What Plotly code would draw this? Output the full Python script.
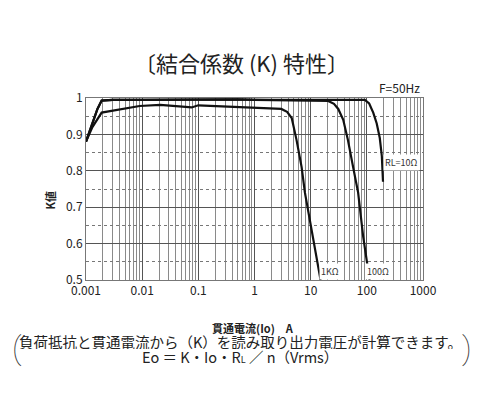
import plotly.graph_objects as go

# 貫通電流 (A) と結合係数 K  -- RL=10Ω
i_10 = [0.001, 0.0013, 0.0016, 0.0019, 0.003, 0.01, 0.05, 0.1, 0.5, 1, 5, 20, 50, 92, 110, 130, 150, 170, 185, 194]
k_10 = [0.88, 0.93, 0.97, 0.993, 0.995, 0.995, 0.996, 0.997, 0.996, 0.995, 0.995, 0.995, 0.996, 0.995, 0.985, 0.96, 0.93, 0.89, 0.84, 0.77]

# RL=100Ω
i_100 = [0.001, 0.0013, 0.0016, 0.0019, 0.003, 0.01, 0.05, 0.1, 0.5, 1, 5, 15, 20.5, 26, 31, 38, 46, 57, 70, 86, 112]
k_100 = [0.88, 0.93, 0.97, 0.993, 0.995, 0.995, 0.996, 0.997, 0.996, 0.995, 0.994, 0.994, 0.992, 0.984, 0.97, 0.94, 0.885, 0.81, 0.74, 0.62, 0.5]

# RL=1KΩ
i_1k = [0.001, 0.0013, 0.0019, 0.005, 0.009, 0.021, 0.041, 0.076, 0.1, 0.3, 1, 2, 3, 3.8, 4.6, 5.6, 6.9, 7.9, 10, 12.5, 15]
k_1k = [0.88, 0.92, 0.96, 0.97, 0.978, 0.981, 0.978, 0.974, 0.98, 0.977, 0.975, 0.973, 0.97, 0.962, 0.945, 0.885, 0.81, 0.74, 0.65, 0.57, 0.5]

x_ticks = [0.001, 0.01, 0.1, 1, 10, 100, 1000]
x_labels = ["0.001", "0.01", "0.1", "1", "10", "100", "1000"]
y_ticks = [0.5, 0.6, 0.7, 0.8, 0.9, 1.0]
y_labels = ["0.5", "0.6", "0.7", "0.8", "0.9", "1"]

minor_x = [m * 10 ** e for e in range(-3, 3) for m in range(2, 10)]

jp = "Noto Sans CJK JP"

fig = go.Figure()
for xs, ys in [(i_10, k_10), (i_100, k_100), (i_1k, k_1k)]:
    fig.add_trace(go.Scatter(x=xs, y=ys, mode="lines",
                             line=dict(color="#111", width=2.2),
                             showlegend=False, hoverinfo="skip"))

fig.update_xaxes(type="log", range=[-3, 3], tickvals=x_ticks, ticktext=x_labels,
                 showgrid=True, gridcolor="#555", gridwidth=1,
                 minor=dict(tickvals=minor_x, showgrid=True, gridcolor="#8a8a8a", gridwidth=1),
                 showline=True, linecolor="#777", mirror=True, ticks="",
                 tickfont=dict(family=jp, size=12, color="#222"), zeroline=False)
fig.update_yaxes(range=[0.5, 1.0], tickvals=y_ticks, ticktext=y_labels,
                 showgrid=True, gridcolor="#555", gridwidth=1,
                 minor=dict(dtick=0.05, showgrid=True, griddash="dot", gridcolor="#777"),
                 showline=True, linecolor="#777", mirror=True, ticks="",
                 tickfont=dict(family=jp, size=12, color="#222"), zeroline=False)

ann = [
    dict(text="〔結合係数 (K) 特性〕", x=0.46, y=1.198, size=22),
    dict(text="F=50Hz", x=0.997, y=1.055, size=12, xanchor="right"),
    dict(text="<b>K値</b>", x=-0.108, y=0.44, size=11, textangle=-90),
    dict(text="<b>貫通電流(Io)</b>　<b>A</b>", x=0.496, y=-0.265, size=11),
    dict(text="負荷抵抗と貫通電流から（K）を読み取り出力電圧が計算できます。", x=0.457, y=-0.337, size=14.5, height=15),
    dict(text="Eo ＝ K・Io・R<span style='font-size:9px'>L</span> ／ n（Vrms）", x=0.457, y=-0.422, size=14.5),
]
for a in ann:
    fig.add_annotation(text=a["text"], x=a["x"], y=a["y"], xref="paper", yref="paper",
                       xanchor=a.get("xanchor", "center"), yanchor="middle",
                       textangle=a.get("textangle", 0), showarrow=False,
                       height=a.get("height"),
                       font=dict(family=jp, size=a["size"], color="#222"))

# 説明文を囲む大きな括弧
for txt, px in [("(", -0.226), (")", 1.15)]:
    fig.add_annotation(text=txt, x=px, y=-0.49, xref="paper", yref="paper",
                       showarrow=False,
                       font=dict(family="Roboto", size=32, color="#333", weight=100))

# 曲線ラベル
for txt, lx, ly in [("RL=10Ω", 2.62, 0.824), ("1KΩ", 1.34, 0.522), ("100Ω", 2.196, 0.522)]:
    fig.add_annotation(text=txt, x=lx, y=ly, xref="x", yref="y", showarrow=False,
                       bgcolor="white", font=dict(family=jp, size=9, color="#333"))

fig.update_layout(width=488, height=413, plot_bgcolor="white", paper_bgcolor="white",
                  margin=dict(l=86, r=65, t=98, b=133))

fig.write_html("out.html", config={"displayModeBar": False},
               post_script="document.body.style.margin='0';")
